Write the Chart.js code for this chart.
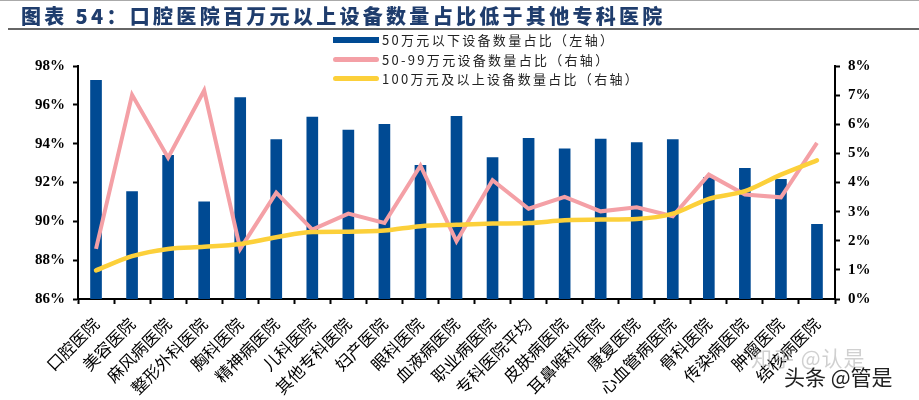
<!DOCTYPE html>
<html>
<head>
<meta charset="utf-8">
<script src="https://cdn.jsdelivr.net/npm/chart.js@4/dist/chart.umd.min.js"></script>
<style>
  html,body{margin:0;padding:0;background:#fff;}
  #wrap{position:relative;width:919px;height:400px;overflow:hidden;background:#fff;}
  #c{position:absolute;left:0;top:0;}
  #topline{position:absolute;left:0;top:0;width:919px;height:1px;background:#aaa;}
  #title{position:absolute;left:21px;top:4px;font-family:"Noto Sans CJK SC",sans-serif;font-weight:900;font-size:20px;line-height:24px;color:#1f3d6d;letter-spacing:3.3px;white-space:nowrap;}
  #rule{position:absolute;left:8px;top:28px;width:911px;height:2px;background:#666;}
  #legend{position:absolute;left:333px;top:30px;font-family:"Noto Sans CJK SC",sans-serif;font-size:13px;color:#222;}
  .row{position:relative;height:19.7px;white-space:nowrap;}
  .mk{position:absolute;left:0;width:46px;}
  .txt{position:absolute;left:49px;top:0;line-height:19px;letter-spacing:2.3px;}
  .wm1{position:absolute;left:751px;top:342px;font-family:"Noto Sans CJK SC",sans-serif;font-size:21px;color:rgba(170,170,170,0.55);letter-spacing:1px;white-space:nowrap;}
  .wm2{position:absolute;left:784px;top:361px;font-family:"Noto Sans CJK SC",sans-serif;font-size:21px;color:#222;white-space:nowrap;text-shadow:0 0 2px #fff,0 0 2px #fff;}
</style>
</head>
<body>
<div id="wrap">
  <canvas id="c" width="919" height="400"></canvas>
  <div id="topline"></div>
  <div id="title"></div>
  <div id="rule"></div>
  <div id="legend"></div>
  <div class="wm1">知乎 @认是</div>
  <div class="wm2">头条 @管是</div>
</div>
<script>
const titleText = "图表 54：口腔医院百万元以上设备数量占比低于其他专科医院";
const categories = ["口腔医院","美容医院","麻风病医院","整形外科医院","胸科医院","精神病医院","儿科医院","其他专科医院","妇产医院","眼科医院","血液病医院","职业病医院","专科医院平均","皮肤病医院","耳鼻喉科医院","康复医院","心血管病医院","骨科医院","传染病医院","肿瘤医院","结核病医院"];
const seriesNames = ["50万元以下设备数量占比（左轴）","50-99万元设备数量占比（右轴）","100万元及以上设备数量占比（右轴）"];
const under50 = [97.26,91.53,93.4,91.01,96.37,94.21,95.37,94.7,95.0,92.88,95.41,93.28,94.27,93.74,94.24,94.05,94.21,92.25,92.73,92.16,89.84];
const from50to99 = [1.72,7.01,4.85,7.16,1.72,3.65,2.38,2.93,2.61,4.58,1.98,4.08,3.10,3.51,3.01,3.15,2.84,4.27,3.59,3.49,5.36];
const over100 = [0.98,1.47,1.72,1.79,1.89,2.12,2.30,2.31,2.35,2.50,2.55,2.59,2.61,2.70,2.73,2.75,2.93,3.44,3.70,4.27,4.76];
const leftTicks = {min:86,max:98,step:2};
const rightTicks = {min:0,max:8,step:1};

const colors = ["#004a93","#f4a0a6","#fcd03a"];

document.getElementById('title').textContent = titleText;

// legend
const lg = document.getElementById('legend');
seriesNames.forEach((n,i)=>{
  const row = document.createElement('div'); row.className='row';
  const mk = document.createElement('div'); mk.className='mk';
  if(i===0){ mk.style.top='6.5px'; mk.style.height='6px'; mk.style.background=colors[0]; }
  else { mk.style.top='7px'; mk.style.height='5px'; mk.style.borderRadius='3px'; mk.style.background=colors[i]; }
  const tx = document.createElement('div'); tx.className='txt'; tx.textContent=n;
  row.appendChild(mk); row.appendChild(tx); lg.appendChild(row);
});

const tickFont = {family:"'Liberation Serif','Times New Roman',serif",size:15,weight:'bold'};

new Chart(document.getElementById('c'),{
  data:{
    labels:categories,
    datasets:[
      {type:'bar',label:seriesNames[0],data:under50,backgroundColor:colors[0],barThickness:11,yAxisID:'yL',order:3},
      {type:'line',label:seriesNames[1],data:from50to99,borderColor:colors[1],borderWidth:4,pointRadius:0,tension:0,yAxisID:'yR',order:2,borderJoinStyle:'miter'},
      {type:'line',label:seriesNames[2],data:over100,borderColor:colors[2],borderWidth:4.5,pointRadius:0,cubicInterpolationMode:'monotone',yAxisID:'yR',order:1,borderCapStyle:'round'}
    ]
  },
  options:{
    responsive:false,
    animation:false,
    devicePixelRatio:1,
    layout:{padding:{top:66,left:0,right:0,bottom:0}},
    plugins:{legend:{display:false},title:{display:false},tooltip:{enabled:false}},
    scales:{
      x:{
        grid:{display:true,drawOnChartArea:false,drawTicks:true,tickLength:5,tickColor:'#000',tickWidth:2,offset:true},
        border:{display:true,color:'#000',width:2},
        ticks:{autoSkip:false,maxRotation:45,minRotation:45,color:'#000',font:{family:"'Noto Sans CJK SC',sans-serif",size:16.5},padding:10},
        afterFit:(s)=>{s.height=101;}
      },
      yL:{
        position:'left',min:leftTicks.min,max:leftTicks.max,
        grid:{display:true,drawOnChartArea:false,drawTicks:true,tickLength:5,tickColor:'#000',tickWidth:2},
        border:{display:true,color:'#000',width:2},
        ticks:{stepSize:leftTicks.step,color:'#000',font:tickFont,padding:8,callback:(v)=>v+'%'},
        afterFit:(s)=>{s.width=78;}
      },
      yR:{
        position:'right',min:rightTicks.min,max:rightTicks.max,
        grid:{display:true,drawOnChartArea:false,drawTicks:true,tickLength:5,tickColor:'#000',tickWidth:2},
        border:{display:true,color:'#000',width:2},
        ticks:{stepSize:rightTicks.step,color:'#000',font:tickFont,padding:8,callback:(v)=>v+'%'},
        afterFit:(s)=>{s.width=84;}
      }
    }
  }
});
</script>
</body>
</html>
